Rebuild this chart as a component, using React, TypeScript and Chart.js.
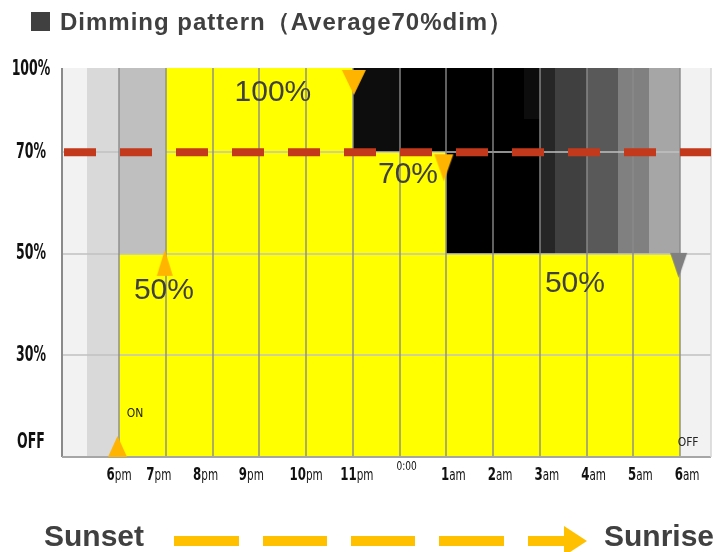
import React, { useEffect, useRef } from "react";
import { Chart, registerables } from "chart.js";

Chart.register(...registerables);

// ---------- data ----------
// hours counted from 6pm (=0) to 6am (=12)
const hourTicks = [0, 1, 2, 3, 4, 5, 6, 7, 8, 9, 10, 11, 12];
const hourNumbers = ["6", "7", "8", "9", "10", "11", "0:00", "1", "2", "3", "4", "5", "6"];
const hourSuffixes = ["pm", "pm", "pm", "pm", "pm", "pm", "", "am", "am", "am", "am", "am", "am"];

// dimming levels (%) shown on the vertical axis (0 = OFF)
const levelTicks = [0, 30, 50, 70, 100];
const levelLabels = ["OFF", "30%", "50%", "70%", "100%"];
// axis position of each level tick (the axis is not proportional)
const levelPositions = [0, 1, 2, 3, 3.83];

// dimming schedule: level holds from each start hour
const scheduleHours = [0, 1, 5, 7, 12];
const scheduleLevels = [50, 100, 70, 50, 50];

const averageLevel = 70;

// change-point markers
const markerHours = [0, 1, 5, 7, 12];
const markerLevels = [0, 50, 100, 70, 50];

// shading behind the schedule: hour range and level range
const bandFromHour = [-1.22, -0.68, 0, 5, 6, 7, 8.66, 9, 9.33, 10, 10.67, 11.33, 12];
const bandToHour = [-0.68, 0, 1, 6, 7, 9, 9, 9.33, 10, 10.67, 11.33, 12, 12.66];
const bandFromLevel = [0, 0, 50, 70, 70, 50, 82, 50, 50, 50, 50, 50, 0];
const bandToLevel = [100, 100, 100, 100, 100, 100, 100, 100, 100, 100, 100, 100, 100];

// text annotations inside the plot
const noteTexts = ["100%", "70%", "50%", "50%", "ON", "OFF"];

const xMin = -1.22;
const xMax = 12.66;

// ---------- styles ----------
const bandColors = ["#f2f2f2", "#d9d9d9", "#bfbfbf", "#0d0d0d", "#000000", "#000000", "#0d0d0d", "#262626", "#404040", "#595959", "#808080", "#a6a6a6", "#f2f2f2"];
const noteHour = [3.29, 6.18, 0.96, 9.75, 0.34, 12.17];
const notePos = [3.59, 2.78, 1.64, 1.71, 0.42, 0.14];
const noteBig = [true, true, true, true, false, false];
const markerColors = ["#FFB400", "#FFB400", "#FFB400", "#FFB400", "#808080"];
const markerUp = [true, true, false, false, false];
const markerW = [19, 16, 24, 19, 17];
const markerH = [21, 26, 25, 27, 25];
const markerTop = [-21, -4, 2, 2, -1];
const markerDx = [-1.5, -1, 1, -2.5, -1.5];
const xLabelNudge = [0, -7, -7, -8, 0, 4, 7, 7, 7, 7, 7, 7, 7];
const yLabelNudge = [-14, 0, 0, 0, 2];

const NARROW = "'Liberation Sans Narrow', 'DejaVu Sans Condensed', 'Liberation Sans', sans-serif";
const SANS = "'Liberation Sans', Arial, 'DejaVu Sans', sans-serif";

function levelPos(level: number): number {
  for (let i = 1; i < levelTicks.length; i++) {
    if (level <= levelTicks[i]) {
      const a = levelTicks[i - 1];
      const b = levelTicks[i];
      const t = (level - a) / (b - a);
      return levelPositions[i - 1] + t * (levelPositions[i] - levelPositions[i - 1]);
    }
  }
  return levelPositions[levelPositions.length - 1];
}

function makeTriangle(i: number): HTMLCanvasElement {
  const w = markerW[i], h = markerH[i], top = markerTop[i], dx = markerDx[i];
  const halfW = Math.ceil(Math.max(Math.abs(dx - w / 2), Math.abs(dx + w / 2))) + 1;
  const halfH = Math.ceil(Math.max(Math.abs(top), Math.abs(top + h))) + 1;
  const c = document.createElement("canvas");
  c.width = halfW * 2;
  c.height = halfH * 2;
  const g = c.getContext("2d")!;
  g.fillStyle = markerColors[i];
  const cx = halfW + dx;
  const y0 = halfH + top;
  g.beginPath();
  if (markerUp[i]) {
    g.moveTo(cx, y0);
    g.lineTo(cx + w / 2, y0 + h);
    g.lineTo(cx - w / 2, y0 + h);
  } else {
    g.moveTo(cx - w / 2, y0);
    g.lineTo(cx + w / 2, y0);
    g.lineTo(cx, y0 + h);
  }
  g.closePath();
  g.fill();
  return c;
}

const shadingPlugin = {
  id: "shading",
  beforeDatasetsDraw(chart: any) {
    const ctx = chart.ctx;
    const xs = chart.scales.x;
    const ys = chart.scales.y;
    ctx.save();
    for (let i = 0; i < bandFromHour.length; i++) {
      const x1 = Math.round(xs.getPixelForValue(bandFromHour[i]));
      const x2 = Math.round(xs.getPixelForValue(bandToHour[i]));
      const yb = Math.round(ys.getPixelForValue(levelPos(bandFromLevel[i])));
      const yt = Math.round(ys.getPixelForValue(levelPos(bandToLevel[i])));
      ctx.fillStyle = bandColors[i];
      ctx.fillRect(x1, yt, x2 - x1, yb - yt);
    }
    ctx.restore();
  },
  afterDatasetDraw(chart: any, args: any) {
    if (args.index !== 0) return;
    const ctx = chart.ctx;
    const xs = chart.scales.x;
    const ys = chart.scales.y;
    const a = chart.chartArea;
    ctx.save();
    // horizontal grid
    ctx.strokeStyle = "#c0c0c0";
    ctx.lineWidth = 1.6;
    [30, 50, 70].forEach((lv) => {
      const y = Math.round(ys.getPixelForValue(levelPos(lv)));
      ctx.beginPath();
      ctx.moveTo(a.left, y);
      ctx.lineTo(a.right, y);
      ctx.stroke();
    });
    // vertical grid
    ctx.strokeStyle = "#8a8a8a";
    ctx.lineWidth = 1.4;
    hourTicks.forEach((h) => {
      const x = Math.round(xs.getPixelForValue(h));
      ctx.beginPath();
      ctx.moveTo(x, a.top);
      ctx.lineTo(x, a.bottom);
      ctx.stroke();
    });
    // borders
    ctx.strokeStyle = "#8a8a8a";
    ctx.lineWidth = 2;
    ctx.beginPath();
    ctx.moveTo(a.left, a.top);
    ctx.lineTo(a.left, a.bottom);
    ctx.stroke();
    ctx.strokeStyle = "#a6a6a6";
    ctx.beginPath();
    ctx.moveTo(a.left, a.bottom);
    ctx.lineTo(a.right, a.bottom);
    ctx.stroke();
    ctx.strokeStyle = "#d4d4d4";
    ctx.lineWidth = 1.5;
    ctx.beginPath();
    ctx.moveTo(a.right, a.top);
    ctx.lineTo(a.right, a.bottom);
    ctx.stroke();
    // notes
    ctx.textAlign = "center";
    ctx.textBaseline = "middle";
    for (let i = 0; i < noteTexts.length; i++) {
      const x = xs.getPixelForValue(noteHour[i]);
      const y = ys.getPixelForValue(notePos[i]);
      if (noteBig[i]) {
        ctx.font = `30px ${SANS}`;
        ctx.fillStyle = "#404040";
      } else {
        ctx.font = `12px ${NARROW}`;
        ctx.fillStyle = "#222222";
      }
      ctx.fillText(noteTexts[i], x, y);
    }
    ctx.restore();
  },
  afterDraw(chart: any) {
    const ctx = chart.ctx;
    const xs = chart.scales.x;
    const ys = chart.scales.y;
    ctx.save();
    ctx.fillStyle = "#111111";
    // y labels
    ctx.font = `bold 21px ${NARROW}`;
    const sy = Math.min(1, 30 / ctx.measureText("70%").width);
    ctx.textAlign = "center";
    ctx.textBaseline = "middle";
    levelTicks.forEach((lv, i) => {
      const y = ys.getPixelForValue(levelPos(lv)) + yLabelNudge[i];
      ctx.save();
      ctx.translate(31, y);
      ctx.scale(sy, 1);
      ctx.fillText(levelLabels[i], 0, 0);
      ctx.restore();
    });
    // x labels
    const numFont = `bold 17px ${NARROW}`;
    const sufFont = `15px ${NARROW}`;
    ctx.font = numFont;
    const w6 = ctx.measureText("6").width;
    ctx.font = sufFont;
    const wpm = ctx.measureText("pm").width;
    const sx = Math.min(1, 25 / (w6 + wpm));
    ctx.textAlign = "left";
    ctx.textBaseline = "alphabetic";
    hourTicks.forEach((h, i) => {
      const cx = xs.getPixelForValue(h) + xLabelNudge[i];
      if (hourSuffixes[i] === "") {
        ctx.font = `13px ${NARROW}`;
        const w = ctx.measureText(hourNumbers[i]).width * sx;
        ctx.save();
        ctx.translate(cx - w / 2, 470);
        ctx.scale(sx, 1);
        ctx.fillText(hourNumbers[i], 0, 0);
        ctx.restore();
        return;
      }
      ctx.font = numFont;
      const wn = ctx.measureText(hourNumbers[i]).width;
      ctx.font = sufFont;
      const ws = ctx.measureText(hourSuffixes[i]).width;
      const total = (wn + ws) * sx;
      ctx.save();
      ctx.translate(cx - total / 2, 480);
      ctx.scale(sx, 1);
      ctx.font = numFont;
      ctx.fillText(hourNumbers[i], 0, 0);
      ctx.font = sufFont;
      ctx.fillText(hourSuffixes[i], wn, 0);
      ctx.restore();
    });
    // bottom arrow (sunset -> sunrise)
    ctx.fillStyle = "#FFC000";
    const dashes = [[174, 239], [263, 327], [351, 415], [439, 504], [528, 566]];
    dashes.forEach(([a, b]) => ctx.fillRect(a, 536, b - a, 10));
    ctx.beginPath();
    ctx.moveTo(564, 526);
    ctx.lineTo(587, 541);
    ctx.lineTo(564, 556);
    ctx.closePath();
    ctx.fill();
    ctx.restore();
  },
};

export default function App() {
  const ref = useRef<HTMLCanvasElement | null>(null);

  useEffect(() => {
    if (!ref.current) return;
    const schedule = scheduleHours.map((h, i) => ({ x: h, y: levelPos(scheduleLevels[i]) }));
    const average = [
      { x: xMin, y: levelPos(averageLevel) },
      { x: xMax, y: levelPos(averageLevel) },
    ];
    const markers = markerHours.map((h, i) => ({ x: h, y: levelPos(markerLevels[i]) }));
    const markerStyles = markerHours.map((_, i) => makeTriangle(i));

    const chart = new Chart(ref.current, {
      type: "line",
      data: {
        datasets: [
          {
            label: "schedule",
            data: schedule,
            stepped: true,
            fill: "origin",
            backgroundColor: "#FFFF00",
            borderColor: "rgba(0,0,0,0)",
            borderWidth: 0,
            pointRadius: 0,
            order: 3,
          } as any,
          {
            label: "average",
            data: average,
            borderColor: "#C2391B",
            borderWidth: 8,
            borderDash: [32, 24],
            borderDashOffset: 54,
            borderCapStyle: "butt",
            fill: false,
            pointRadius: 0,
            order: 2,
          } as any,
          {
            label: "markers",
            data: markers,
            showLine: false,
            pointStyle: markerStyles as any,
            pointRadius: 12,
            pointHoverRadius: 12,
            backgroundColor: "rgba(0,0,0,0)",
            borderColor: "rgba(0,0,0,0)",
            order: 1,
          } as any,
        ],
      },
      options: {
        responsive: false,
        animation: false,
        events: [],
        layout: { autoPadding: false, padding: { left: 62, top: 68, right: 5, bottom: 95 } },
        scales: {
          x: { type: "linear", min: xMin, max: xMax, display: false, ticks: { display: false } },
          y: { type: "linear", min: 0, max: levelPos(100), display: false, ticks: { display: false } },
        },
        plugins: {
          legend: { display: false },
          tooltip: { enabled: false },
          title: { display: false },
        },
      },
      plugins: [shadingPlugin],
    });
    return () => chart.destroy();
  }, []);

  return (
    <div style={{ position: "fixed", left: 0, top: 0, width: 716, height: 552, background: "#fff", overflow: "hidden" }}>
      <canvas ref={ref} width={716} height={552} style={{ position: "absolute", left: 0, top: 0 }} />
      <div style={{ position: "absolute", left: 31, top: 12, width: 19, height: 19, background: "#404040" }} />
      <div
        style={{
          position: "absolute",
          left: 60,
          top: 7,
          font: `bold 24px ${SANS}`,
          letterSpacing: "1px",
          lineHeight: "30px",
          color: "#404040",
          whiteSpace: "nowrap",
        }}
      >
        Dimming pattern（Average70%dim）
      </div>
      <div style={{ position: "absolute", left: 44, top: 519, font: `bold 30px ${SANS}`, lineHeight: "34px", color: "#404040" }}>
        Sunset
      </div>
      <div style={{ position: "absolute", left: 604, top: 519, font: `bold 30px ${SANS}`, lineHeight: "34px", color: "#404040" }}>
        Sunrise
      </div>
    </div>
  );
}
